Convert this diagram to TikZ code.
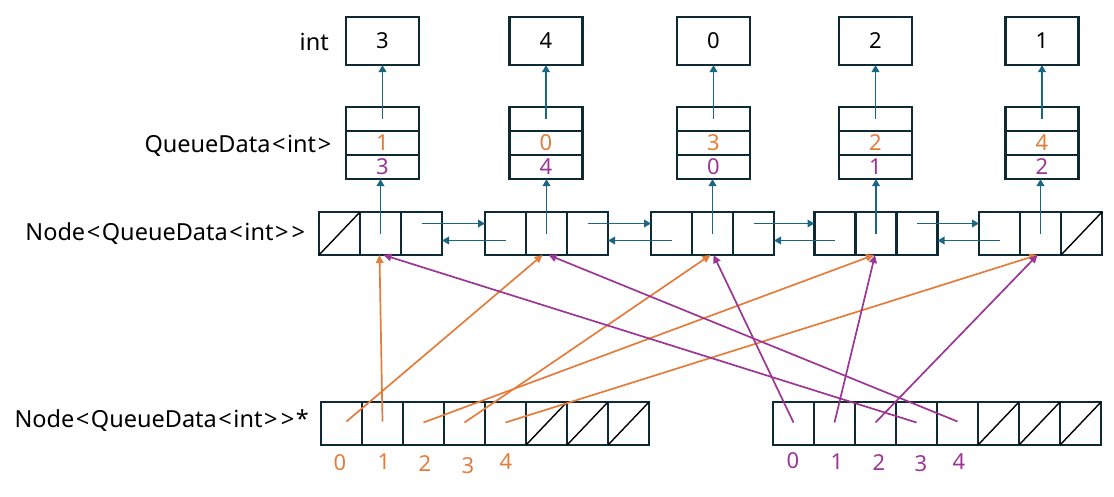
\documentclass[tikz,border=0pt]{standalone}
\usepackage{fontspec}
\setmainfont{Noto Sans}
\usetikzlibrary{arrows.meta}
\definecolor{bordc}{HTML}{0D2A35}
\definecolor{tealc}{HTML}{1B6682}
\definecolor{orc}{HTML}{E47C3C}
\definecolor{puc}{HTML}{9C3694}
\newcommand{\mylt}{\kern1.6pt<\kern1.6pt}
\newcommand{\mygt}{\kern1.6pt>\kern1.6pt}
\tikzset{
  txt/.style={font=\fontsize{22}{26}\selectfont, inner sep=0pt},
  ltxt/.style={font=\fontsize{23.5}{28}\selectfont, inner sep=0pt},
  cell/.style={draw=bordc, line width=2.1pt, minimum width=41pt, minimum height=43pt, inner sep=0pt, outer sep=0pt},
  ibox/.style={draw=bordc, line width=2.1pt, minimum width=73pt, minimum height=48pt, outer sep=0pt, txt},
  qrow/.style={draw=bordc, line width=2.1pt, minimum width=73pt, minimum height=24pt, outer sep=0pt, txt},
  tarr/.style={draw=tealc, line width=1.8pt, -{Triangle[length=7pt,width=7.5pt]}},
  oarr/.style={draw=orc, line width=1.7pt, -{Triangle[length=8pt,width=7.5pt]}},
  parr/.style={draw=puc, line width=1.7pt, -{Triangle[length=8pt,width=7.5pt]}},
  nullx/.style={draw=black, line width=1.4pt},
  lbl/.style={ltxt, anchor=base east}
}
\begin{document}
\begin{tikzpicture}[x=1pt,y=-1pt]
\useasboundingbox (0,0) rectangle (1114,496);

% left labels
\node[lbl] (lint) at (329,50) {int};
\node[lbl] (lqd) at (333,152) {QueueData\mylt int\mygt};
\node[lbl] (lnode) at (307,240) {Node\mylt QueueData\mylt int\mygt\mygt};
\node[lbl] (lptr) at (309,427) {Node\mylt QueueData\mylt int\mygt\mygt *};

% int boxes, queue data, list nodes
\foreach \k/\xv/\xq/\xn/\v/\o/\p in {1/382.5/382.5/380.5/3/1/3, 2/546/546/546.5/4/0/4, 3/713.5/713.5/712.5/0/3/0, 4/875.5/875.5/876/2/2/1, 5/1042/1042/1040.5/1/4/2}{
  \node[ibox] (v\k) at (\xv,41) {\v};
  \node[qrow] (q\k a) at (\xq,119) {};
  \node[qrow,text=orc] (q\k b) at (\xq,143) {\o};
  \node[qrow,text=puc] (q\k c) at (\xq,167) {\p};
  \node[cell] (n\k b) at (\xn,233.5) {};
  \node[cell] (n\k a) at (\xn-41,233.5) {};
  \node[cell] (n\k c) at (\xn+41,233.5) {};
  \draw[tarr] (q\k a.center) -- (v\k.south);
  \draw[tarr] (n\k b.center) -- (n\k b.center |- q\k c.south);
}
\draw[nullx] (n1a.south west) -- (n1a.north east);
\draw[nullx] (n5c.south west) -- (n5c.north east);

% next / prev links
\foreach \i/\j in {1/2, 2/3, 3/4, 4/5}{
  \draw[tarr] ([yshift=10pt]n\i c.center) -- ([yshift=10pt]n\j a.west);
  \draw[tarr] ([yshift=-7pt]n\j a.center) -- ([yshift=-7pt]n\i c.east);
}

% pointer arrays
\foreach \i in {0,...,7}{
  \node[cell] (L\i) at (341.5+41*\i,423.5) {};
  \node[cell] (R\i) at (793.5+41*\i,423.5) {};
}
\foreach \i in {5,6,7}{
  \draw[nullx] (L\i.south west) -- (L\i.north east);
  \draw[nullx] (R\i.south west) -- (R\i.north east);
}

% index labels
\foreach \i/\x/\y in {0/340/463, 1/384/462, 2/425/464, 3/468/466, 4/506/462}{
  \node[txt,text=orc] (li\i) at (\x,\y) {\i};
}
\foreach \i/\x/\y in {0/793/461, 1/837/462, 2/879/463, 3/921/464, 4/959/462}{
  \node[txt,text=puc] (ri\i) at (\x,\y) {\i};
}

% orange pointers
\draw[oarr] ([xshift=5pt,yshift=2pt]L0.center) -- ([xshift=-4pt]n2b.south);
\draw[oarr] ([yshift=2pt]L1.center) -- ([xshift=-1pt]n1b.south);
\draw[oarr] ([yshift=1pt]L2.center) -- ([xshift=-2pt]n4b.south);
\draw[oarr] ([yshift=1pt]L3.center) -- ([xshift=-2pt]n3b.south);
\draw[oarr] ([yshift=1pt]L4.center) -- ([xshift=-3pt]n5b.south);

% purple pointers
\draw[parr] ([yshift=1pt]R0.center) -- ([xshift=1pt]n3b.south);
\draw[parr] ([yshift=1pt]R1.center) -- ([xshift=-1pt]n4b.south);
\draw[parr] ([yshift=1pt]R2.center) -- ([xshift=-3pt]n5b.south);
\draw[parr] ([yshift=1pt]R3.center) -- ([xshift=3pt]n1b.south);
\draw[parr] ([yshift=2pt]R4.center) -- ([xshift=2pt]n2b.south);
\end{tikzpicture}
\end{document}
